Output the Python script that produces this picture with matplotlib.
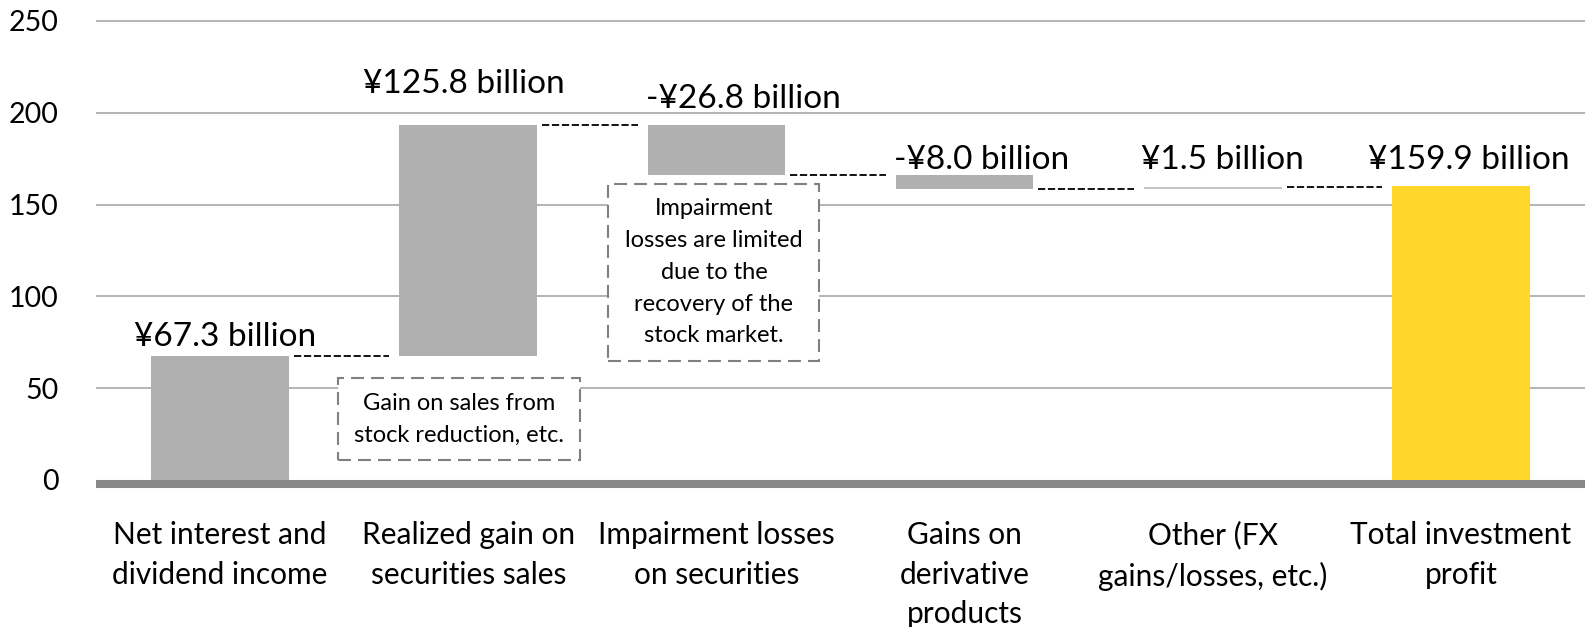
import matplotlib
matplotlib.use("Agg")
import matplotlib.pyplot as plt
from matplotlib.patches import Rectangle
import numpy as np

# ---------------- DATA ----------------
categories = ["Net interest and\ndividend income",
              "Realized gain on\nsecurities sales",
              "Impairment losses\non securities",
              "Gains on\nderivative\nproducts",
              "Other (FX\ngains/losses, etc.)",
              "Total investment\nprofit"]
deltas = [67.3, 125.8, -26.8, -8.0, 1.5]
total = 159.9
value_labels = ["¥67.3 billion", "¥125.8 billion", "-¥26.8 billion",
                "-¥8.0 billion", "¥1.5 billion", "¥159.9 billion"]
yticks = [0, 50, 100, 150, 200, 250]

notes = ["Gain on sales from\nstock reduction, etc.",
         "Impairment\nlosses are limited\ndue to the\nrecovery of the\nstock market."]

# ---------------- STYLE ----------------
plt.rcParams['font.family'] = ['Lato', 'DejaVu Sans']
GRAY = "#b0b0b0"
YELLOW = "#ffd629"
label_gap = [10.4, 22.7, 14.5, 8.2, 14.7, 14.6]     # label centre above bar top (data units)
label_dx = [0.02, -0.016, 0.11, 0.07, 0.04, 0.03]   # label shift from bar centre

# ---------------- WATERFALL ----------------
ends = np.cumsum(deltas)
starts = ends - np.array(deltas)
bottoms = list(np.minimum(starts, ends)) + [0]
heights = list(np.abs(deltas)) + [total]
tops = [b + h for b, h in zip(bottoms, heights)]
colors = [GRAY] * 4 + ["#c4c4c4", YELLOW]

fig = plt.figure(figsize=(15.87, 6.27), dpi=100)
ax = fig.add_axes([0.0605, 0.22, 0.9382, 0.748])

x = np.arange(len(categories))
w = 0.555
ax.bar(x, heights, bottom=bottoms, width=w, color=colors, zorder=3)

# connectors
for i, lvl in enumerate(ends):
    ax.plot([x[i] + w / 2 + 0.02, x[i + 1] - w / 2 - 0.04], [lvl, lvl],
            color="black", lw=1.3, ls=(0, (4.0, 1.5)), zorder=4)

# value labels
for i, txt in enumerate(value_labels):
    ax.text(x[i] + label_dx[i], tops[i] + label_gap[i], txt,
            ha="center", va="center", fontsize=24, zorder=5)

# note boxes
boxes = [(0.476, 10.9, 0.976, 44.5), (1.565, 64.7, 0.85, 96.7)]
for (bx, by, bw, bh), txt in zip(boxes, notes):
    ax.add_patch(Rectangle((bx, by), bw, bh, facecolor="white", edgecolor="#808080",
                           lw=1.5, ls=(0, (6.2, 3.4)), zorder=4))
    ax.text(bx + bw / 2, by + bh / 2, txt, ha="center", va="center",
            fontsize=17, linespacing=1.63, zorder=5)

# grid & axes
for t in yticks[1:]:
    ax.axhline(t, color="#a0a0a0", lw=1.1, zorder=1)
ax.axhline(-2.2, color="#878787", lw=5.8, zorder=2)

ax.set_xlim(-0.5, 5.5)
ax.set_ylim(-5, 250.5)
ax.set_yticks(yticks)
ax.set_xticks(x)
ax.set_xticklabels(categories, fontsize=21.5, linespacing=1.5, va="top")
ax.tick_params(axis="y", length=0, pad=27, labelsize=20.5)
ax.tick_params(axis="x", length=0, pad=23)
for s in ax.spines.values():
    s.set_visible(False)

fig.savefig("out.png", dpi=100)
